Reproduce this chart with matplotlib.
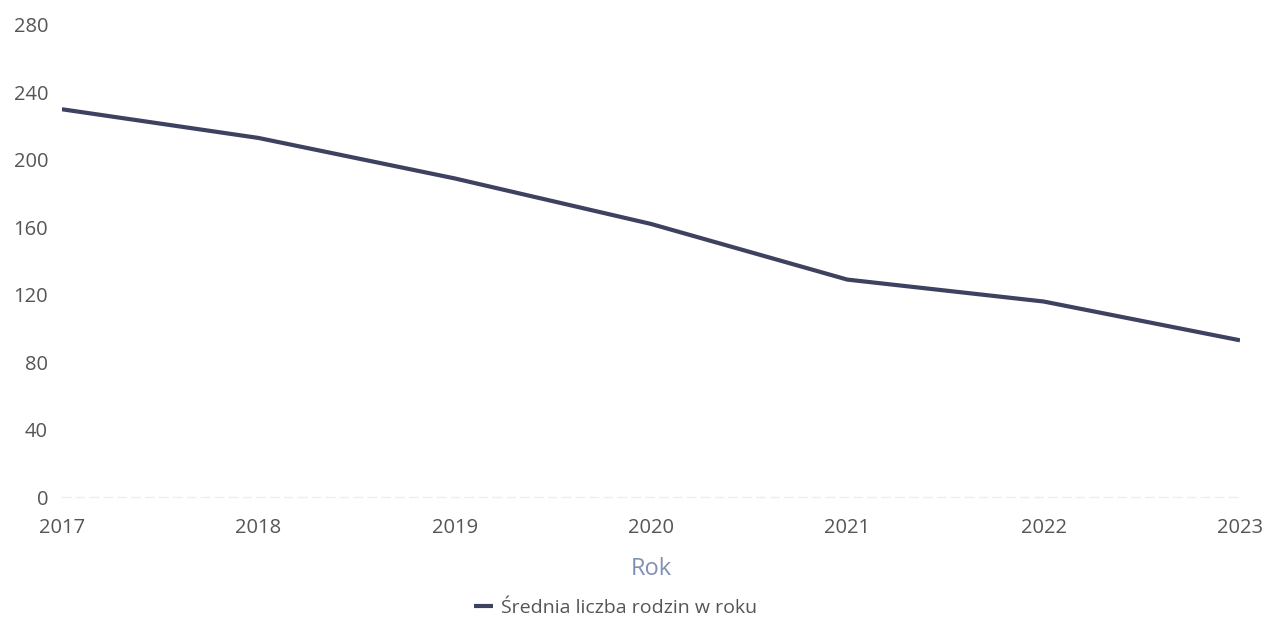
import matplotlib
matplotlib.use("Agg")
from matplotlib import pyplot as plt

# data
years = [2017, 2018, 2019, 2020, 2021, 2022, 2023]
families = [230, 213, 189, 162, 129, 116, 93]
y_ticks = [0, 40, 80, 120, 160, 200, 240, 280]
series_label = "Średnia liczba rodzin w roku"

plt.rcParams["font.family"] = ["Open Sans", "DejaVu Sans"]

fig = plt.figure(figsize=(12.64, 6.23), dpi=100)
ax = fig.add_axes([0.049, 0.202, 0.932, 0.758])

line_color = "#3d4260"
ax.plot(years, families, color=line_color, linewidth=3, solid_joinstyle="round",
        solid_capstyle="butt", label=series_label)

ax.set_xlim(years[0], years[-1])
ax.set_ylim(0, 280)
ax.set_xticks(years)
ax.set_yticks(y_ticks)
ax.tick_params(axis="both", length=0, labelsize=14.5, colors="#555555")
ax.tick_params(axis="y", pad=10)
ax.tick_params(axis="x", pad=15)

for side in ["top", "right", "left"]:
    ax.spines[side].set_visible(False)
ax.spines["bottom"].set_color("#eeeeee")
ax.spines["bottom"].set_linestyle((0, (6, 4)))
ax.spines["bottom"].set_linewidth(1)

ax.set_xlabel("Rok", fontsize=17, color="#8090b4", labelpad=14)

leg = fig.legend(loc="lower center", bbox_to_anchor=(0.487, -0.018), frameon=False,
                 fontsize=14, handlelength=1.0, handletextpad=0.4)
for t in leg.get_texts():
    t.set_color("#555555")

fig.savefig("out.png", dpi=100)
